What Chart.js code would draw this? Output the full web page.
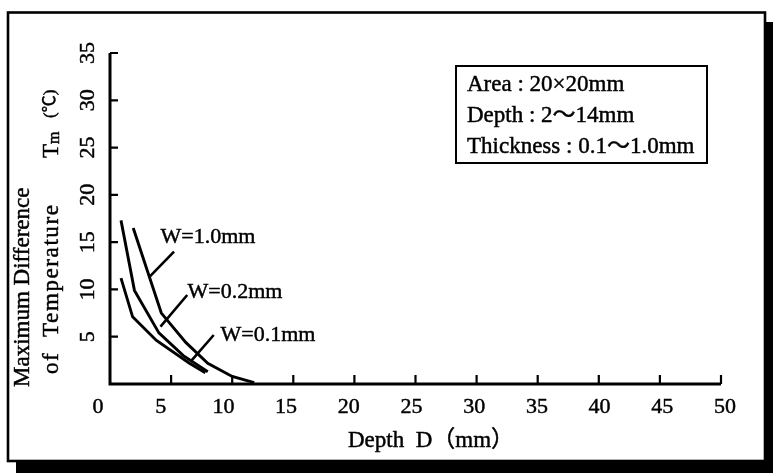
<!DOCTYPE html>
<html>
<head>
<meta charset="utf-8">
<script src="https://cdn.jsdelivr.net/npm/chart.js@4/dist/chart.umd.min.js"></script>
<style>
  html, body { margin: 0; padding: 0; background: #fff; }
  canvas { display: block; }
</style>
</head>
<body>
<canvas id="c" width="773" height="473"></canvas>
<script>
// Maximum temperature difference Tm (°C) against defect depth D (mm)
const depthW10 = [1.9, 4.2, 6.2, 8.0, 10.0, 11.8];
const tempW10  = [16.5, 7.5, 4.4, 2.2, 0.8, 0.15];
const depthW02 = [0.9, 2.0, 4.0, 6.0, 8.0];
const tempW02  = [17.3, 9.9, 5.4, 3.0, 1.3];
const depthW01 = [0.9, 1.85, 3.8, 6.5, 7.8];
const tempW01  = [11.2, 7.1, 4.6, 2.2, 1.2];

// Callout labels with their leader lines (data coordinates)
const calloutText   = ['W=1.0mm', 'W=0.2mm', 'W=0.1mm'];
const calloutX      = [4.13, 6.34, 9.04];
const calloutY      = [15.5, 9.7, 5.2];
const leaderFromX   = [5.24, 6.32, 8.49];
const leaderFromY   = [13.99, 9.41, 5.18];
const leaderToX     = [3.19, 4.13, 6.59];
const leaderToY     = [11.28, 6.06, 2.36];

// Axis ticks and titles
const xTickValues = [0, 5, 10, 15, 20, 25, 30, 35, 40, 45, 50];
const yTickValues = [5, 10, 15, 20, 25, 30, 35];
const xTitle = 'Depth  D（mm）';
const yTitleLine1 = 'Maximum Difference';
const yTitleLine2 = ['of  Temperature', 'T', 'm', '(℃)'];
const noteLines = ['Area : 20×20mm', 'Depth : 2～14mm', 'Thickness : 0.1～1.0mm'];

const SERIF = '"Liberation Serif", "Times New Roman", "Noto Sans CJK JP", serif';

function pts(xs, ys) { return xs.map((x, i) => ({ x: x, y: ys[i] })); }

const lineStyle = { borderColor: '#000', borderWidth: 2.9, pointRadius: 0, tension: 0, fill: false };

const datasets = [
  Object.assign({ label: 'W=1.0mm', data: pts(depthW10, tempW10) }, lineStyle),
  Object.assign({ label: 'W=0.2mm', data: pts(depthW02, tempW02) }, lineStyle),
  Object.assign({ label: 'W=0.1mm', data: pts(depthW01, tempW01) }, lineStyle)
];
calloutText.forEach((t, i) => {
  datasets.push(Object.assign({ label: t + ' leader',
    data: [{ x: leaderFromX[i], y: leaderFromY[i] }, { x: leaderToX[i], y: leaderToY[i] }] }, lineStyle, { borderWidth: 2.6 }));
});

// filled text with a hairline stroke so the serif type reads a little heavier
function inkText(ctx, t, x, y) {
  ctx.fillText(t, x, y);
  ctx.lineWidth = 0.45;
  ctx.strokeText(t, x, y);
}

// rotated (bottom-to-top) text starting at (x, y)
function upText(ctx, t, x, y, align) {
  ctx.save();
  ctx.translate(x, y);
  ctx.rotate(-Math.PI / 2);
  ctx.textAlign = align || 'left';
  inkText(ctx, t, 0, 0);
  ctx.restore();
}

const decorations = {
  id: 'decorations',
  beforeDraw(chart) {
    const ctx = chart.ctx;
    ctx.save();
    ctx.fillStyle = '#fff';
    ctx.fillRect(0, 0, chart.width, chart.height);
    // drop shadow of the frame
    ctx.fillStyle = '#000';
    ctx.fillRect(765, 22, 8, 451);
    ctx.fillRect(16, 461, 757, 12);
    // frame
    ctx.strokeStyle = '#000';
    ctx.lineWidth = 2.6;
    ctx.strokeRect(8, 12.5, 757, 448.5);
    ctx.restore();
  },
  afterDatasetsDraw(chart) {
    const ctx = chart.ctx;
    const xs = chart.scales.x, ys = chart.scales.y;
    const x0 = xs.getPixelForValue(0), y0 = ys.getPixelForValue(0);
    ctx.save();
    ctx.strokeStyle = '#000';
    ctx.fillStyle = '#000';
    // axes
    ctx.lineWidth = 3;
    ctx.beginPath();
    ctx.moveTo(x0, ys.getPixelForValue(35));
    ctx.lineTo(x0, y0);
    ctx.lineTo(xs.getPixelForValue(50), y0);
    ctx.stroke();
    // inward tick marks
    ctx.lineWidth = 2.2;
    ctx.beginPath();
    xTickValues.forEach(v => {
      if (v === 0) return;
      const px = xs.getPixelForValue(v);
      ctx.moveTo(px, y0);
      ctx.lineTo(px, y0 - 9);
    });
    yTickValues.forEach(v => {
      const py = ys.getPixelForValue(v);
      ctx.moveTo(x0, py);
      ctx.lineTo(x0 + 8, py);
    });
    ctx.stroke();

    // tick labels
    ctx.font = '22px ' + SERIF;
    ctx.textAlign = 'center';
    ctx.textBaseline = 'middle';
    xTickValues.forEach(v => {
      inkText(ctx, String(v), xs.getPixelForValue(v) - 12 + v * 0.32, 407);
    });
    yTickValues.forEach(v => {
      upText(ctx, String(v), 88, ys.getPixelForValue(v), 'center');
    });

    // x axis title
    ctx.textAlign = 'left';
    ctx.font = '23px ' + SERIF;
    inkText(ctx, xTitle, 348, 441);

    // y axis title, two lines
    upText(ctx, yTitleLine1, 23, 387);
    ctx.save();
    ctx.letterSpacing = '1.6px';
    upText(ctx, yTitleLine2[0], 52, 374);
    ctx.restore();
    upText(ctx, yTitleLine2[1], 52, 158);
    ctx.font = '16px ' + SERIF;
    upText(ctx, yTitleLine2[2], 55, 144);
    ctx.font = '17px ' + SERIF;
    upText(ctx, yTitleLine2[3], 51, 118);

    // callout labels
    ctx.font = '22px ' + SERIF;
    calloutText.forEach((t, i) => {
      inkText(ctx, t, xs.getPixelForValue(calloutX[i]), ys.getPixelForValue(calloutY[i]));
    });

    // note box
    ctx.lineWidth = 2;
    ctx.strokeRect(456, 66, 251, 97);
    ctx.font = '23px ' + SERIF;
    noteLines.forEach((t, i) => {
      inkText(ctx, t, 467, 85 + i * 31);
    });
    ctx.restore();
  }
};

new Chart(document.getElementById('c'), {
  type: 'line',
  data: { datasets: datasets },
  options: {
    responsive: false,
    animation: false,
    devicePixelRatio: 1,
    layout: { padding: { left: 110, right: 52, top: 53, bottom: 89 } },
    plugins: { legend: { display: false }, tooltip: { enabled: false } },
    scales: {
      x: {
        type: 'linear', min: 0, max: 50,
        ticks: { display: false, stepSize: 5 },
        grid: { display: false, drawTicks: false },
        border: { display: false }
      },
      y: {
        type: 'linear', min: 0, max: 35,
        ticks: { display: false, stepSize: 5 },
        grid: { display: false, drawTicks: false },
        border: { display: false }
      }
    }
  },
  plugins: [decorations]
});
</script>
</body>
</html>
